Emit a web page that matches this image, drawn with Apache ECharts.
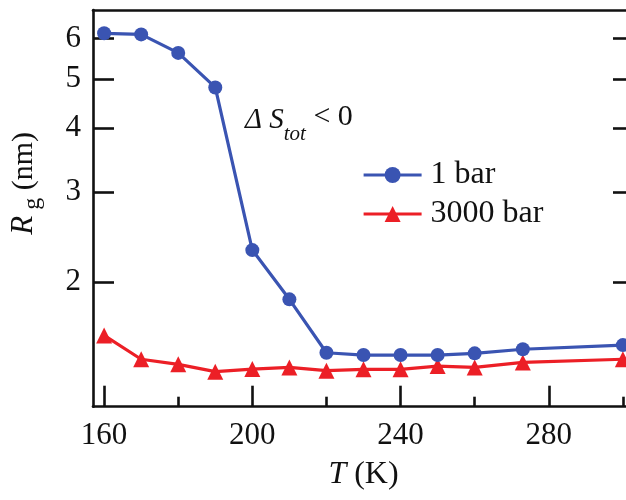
<!DOCTYPE html>
<html>
<head>
<meta charset="utf-8">
<script src="https://cdn.jsdelivr.net/npm/echarts@6/dist/echarts.min.js"></script>
<style>
  html, body { margin: 0; padding: 0; background: #fff; overflow: hidden; }
  #chart { width: 660px; height: 500px; }
</style>
</head>
<body>
<div id="chart"></div>
<script>
// Radius of gyration vs temperature at two pressures
const temperatures = [160, 170, 180, 190, 200, 210, 220, 230, 240, 250, 260, 273, 300];
const rg1bar    = [6.14, 6.11, 5.62, 4.81, 2.31, 1.85, 1.454, 1.439, 1.439, 1.439, 1.450, 1.477, 1.505];
const rg3000bar = [1.572, 1.412, 1.380, 1.335, 1.351, 1.361, 1.341, 1.349, 1.349, 1.369, 1.361, 1.392, 1.412];

const xMajorTicks = [160, 200, 240, 280];
const xMinorTicks = [180, 220, 260, 300];
const yTicks = [2, 3, 4, 5, 6];

const seriesNames = ['1 bar', '3000 bar'];

const FONT = 'Liberation Serif';
const INK = '#111';
const BLUE = '#3a54b2';
const RED = '#ec1f26';

const xRange = { min: 157, max: 303 };
const yRange = { min: 1.14, max: 6.82 };

const pairs = (ys) => temperatures.map((t, i) => [t, ys[i]]);

const chart = echarts.init(document.getElementById('chart'), null, { renderer: 'canvas' });

const baseX = {
  type: 'value',
  min: xRange.min,
  max: xRange.max,
  splitLine: { show: false }
};

chart.setOption({
  animation: false,
  backgroundColor: '#fff',
  grid: { left: 91.7, right: 26, top: 10, bottom: 93.3, containLabel: false },
  xAxis: [
    Object.assign({}, baseX, {
      position: 'bottom',
      axisLine: { show: true, onZero: false, lineStyle: { color: INK, width: 2.6 } },
      axisTick: { show: true, inside: true, length: 21, customValues: xMajorTicks, lineStyle: { color: INK, width: 2.6 } },
      axisLabel: { show: true, customValues: xMajorTicks, margin: 14, color: INK, fontFamily: FONT, fontSize: 31 },
      name: '{i|T}{r| (K)}',
      nameLocation: 'middle',
      nameGap: 52,
      nameTextStyle: {
        padding: [0, 0, 0, 0],
        rich: {
          i: { fontFamily: FONT, fontStyle: 'italic', fontSize: 32, color: INK },
          r: { fontFamily: FONT, fontSize: 32, color: INK }
        }
      }
    }),
    Object.assign({}, baseX, {
      position: 'bottom',
      axisLine: { show: false, onZero: false },
      axisTick: { show: true, inside: true, length: 10, customValues: xMinorTicks, lineStyle: { color: INK, width: 2.6 } },
      axisLabel: { show: false }
    }),
    Object.assign({}, baseX, {
      position: 'top',
      axisLine: { show: true, onZero: false, lineStyle: { color: INK, width: 2.6 } },
      axisTick: { show: false },
      axisLabel: { show: false }
    })
  ],
  yAxis: [
    {
      type: 'log',
      logBase: 10,
      min: yRange.min,
      max: yRange.max,
      position: 'left',
      splitLine: { show: false },
      minorTick: { show: false },
      axisLine: { show: true, onZero: false, lineStyle: { color: INK, width: 2.6 } },
      axisTick: { show: true, inside: true, length: 21, customValues: yTicks, lineStyle: { color: INK, width: 2.6 } },
      axisLabel: { show: true, customValues: yTicks, margin: 12, color: INK, fontFamily: FONT, fontSize: 31 },
      name: '{i|R}{s| g}{r| (nm)}',
      nameLocation: 'middle',
      nameGap: 48,
      nameRotate: 90,
      nameTextStyle: {
        padding: [0, 0, 0, 50],
        rich: {
          i: { fontFamily: FONT, fontStyle: 'italic', fontSize: 31, color: INK, verticalAlign: 'bottom', padding: [0, 0, 6, 0] },
          s: { fontFamily: FONT, fontSize: 24, color: INK, verticalAlign: 'bottom' },
          r: { fontFamily: FONT, fontSize: 30, color: INK, verticalAlign: 'bottom', padding: [0, 0, 6, 0] }
        }
      }
    },
    {
      type: 'log',
      logBase: 10,
      min: yRange.min,
      max: yRange.max,
      position: 'right',
      splitLine: { show: false },
      axisLine: { show: true, onZero: false, lineStyle: { color: INK, width: 2.6 } },
      axisTick: { show: true, inside: true, length: 21, customValues: yTicks, lineStyle: { color: INK, width: 2.6 } },
      axisLabel: { show: false }
    }
  ],
  legend: {
    orient: 'vertical',
    left: 357,
    top: 154,
    itemWidth: 58,
    itemHeight: 20,
    itemGap: 7,
    data: seriesNames,
    lineStyle: { width: 3.2 },
    textStyle: { fontFamily: FONT, fontSize: 32, color: INK, lineHeight: 32, padding: [0, 0, 0, 4] }
  },
  graphic: [
    {
      type: 'text',
      left: 245,
      top: 102,
      style: {
        text: '{d|Δ}{s| S}{t|tot}{r| < 0}',
        rich: {
          d: { fontFamily: FONT, fontStyle: 'italic', fontSize: 29, fill: INK, verticalAlign: 'bottom', padding: [0, 0, 10, 0] },
          s: { fontFamily: FONT, fontStyle: 'italic', fontSize: 29, fill: INK, verticalAlign: 'bottom', padding: [0, 0, 10, 0] },
          t: { fontFamily: FONT, fontStyle: 'italic', fontSize: 21, fill: INK, verticalAlign: 'bottom' },
          r: { fontFamily: FONT, fontSize: 30, fill: INK, verticalAlign: 'bottom', padding: [0, 0, 13, 0] }
        }
      }
    }
  ],
  series: [
    {
      name: seriesNames[0],
      type: 'line',
      xAxisIndex: 0,
      yAxisIndex: 0,
      data: pairs(rg1bar),
      symbol: 'circle',
      symbolSize: 14,
      itemStyle: { color: BLUE },
      lineStyle: { color: BLUE, width: 3.2 },
      z: 3
    },
    {
      name: seriesNames[1],
      type: 'line',
      xAxisIndex: 0,
      yAxisIndex: 0,
      data: pairs(rg3000bar),
      symbol: 'triangle',
      symbolSize: 16,
      itemStyle: { color: RED },
      lineStyle: { color: RED, width: 3.2 },
      z: 2
    }
  ]
});
</script>
</body>
</html>
